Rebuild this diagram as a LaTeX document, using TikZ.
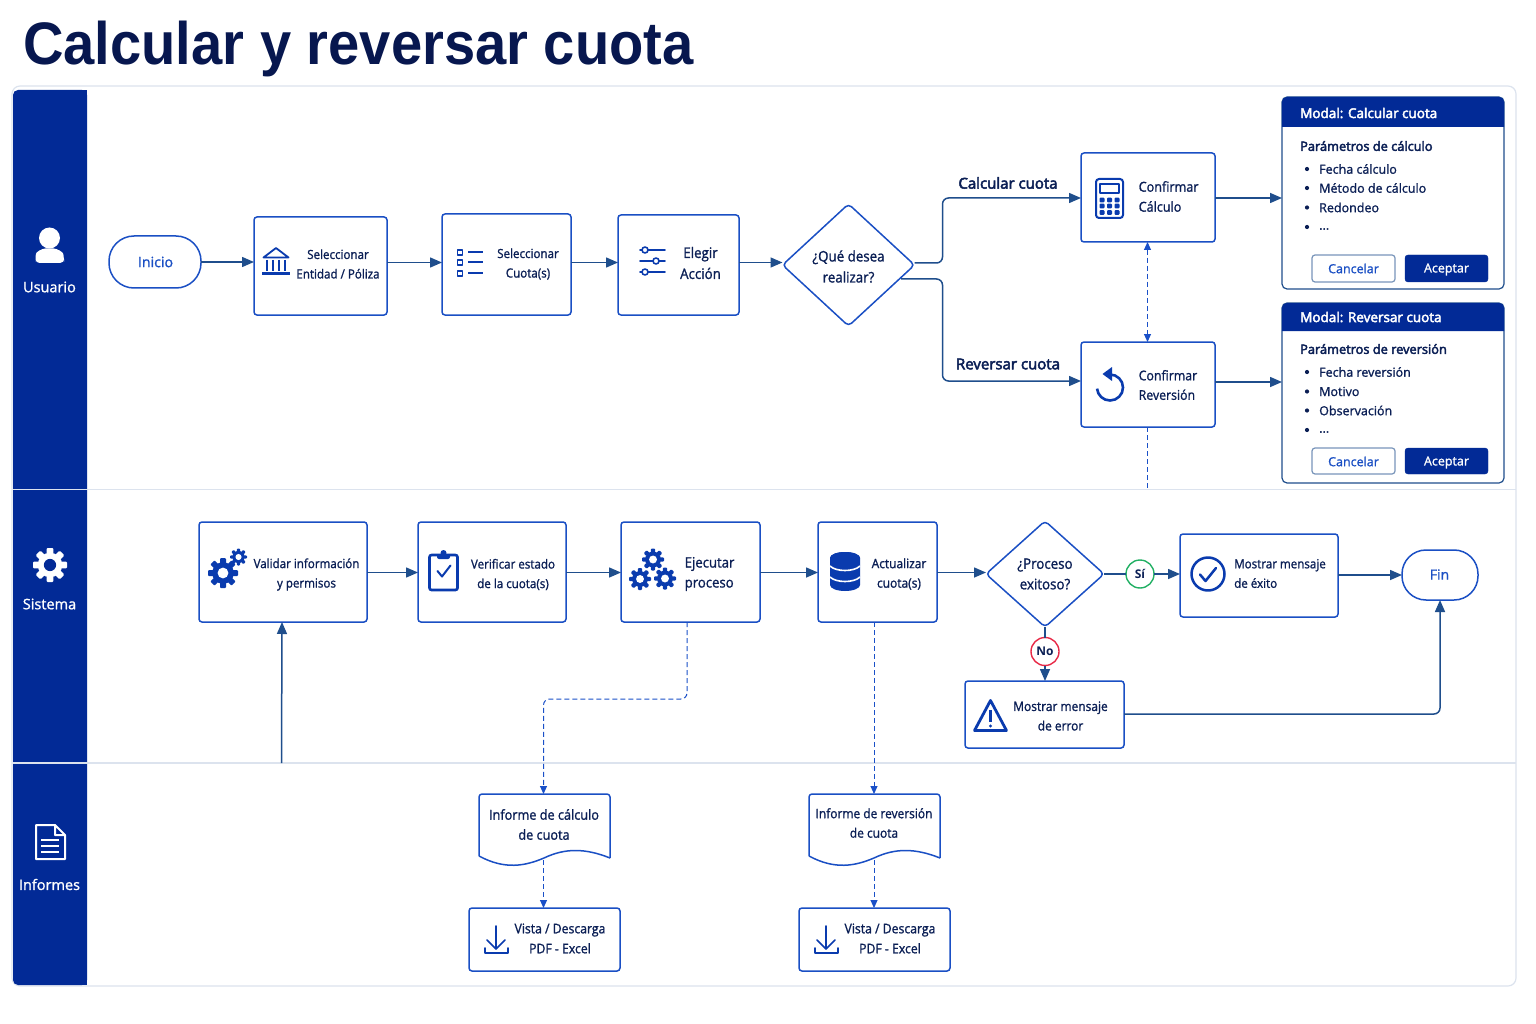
\documentclass[tikz,border=0pt]{standalone}
\usepackage{fontspec}
\usetikzlibrary{arrows.meta,shapes.geometric,calc}
\setmainfont[FakeStretch=0.92,FakeBold=1.2]{Open Sans}
\newfontfamily\semif[FakeBold=3.2]{Open Sans}
\newfontfamily\modf[FakeBold=1.2]{Open Sans}
\newfontfamily\chipf{Open Sans}
\newfontfamily\titlef[FakeStretch=0.935]{Liberation Sans}
\newcommand\tdots{...}
\definecolor{navy}{HTML}{0B1F55}
\definecolor{titlec}{HTML}{07174F}
\definecolor{side}{HTML}{022A96}
\definecolor{edge}{HTML}{1A4FC4}
\definecolor{flowc}{HTML}{1F4E8C}
\definecolor{dashc}{HTML}{1A50C8}
\definecolor{icon}{HTML}{0A3BAE}
\definecolor{grid}{HTML}{DCE3EE}
\tikzset{
 bxs/.style={draw=edge,line width=1.5pt,rounded corners=3pt,fill=white,inner sep=0,outer sep=0},
 stad/.style={bxs,rounded corners=25pt},
 modalbox/.style={draw=flowc,line width=1.2pt,rounded corners=5pt,fill=white,inner sep=0,outer sep=0},
 cancelb/.style={draw=flowc!60,line width=1.2pt,rounded corners=3pt,fill=white,inner sep=0,outer sep=0},
 okb/.style={draw=side,fill=side,rounded corners=3pt,inner sep=0,outer sep=0},
 deci/.style={diamond,draw=edge,line width=1.5pt,rounded corners=4pt,fill=white,inner sep=0,outer sep=0},
 flow/.style={draw=flowc,line width=1.5pt,rounded corners=6pt,-{Triangle[length=12pt,width=10pt]}},
 plainflow/.style={draw=flowc,line width=1.5pt},
 dflow/.style={draw=dashc,line width=1pt,dash pattern=on 5pt off 3pt,rounded corners=6pt,-{Triangle[length=8pt,width=7pt]}},
 tx/.style={text=navy,align=center,inner sep=0,font=\fontsize{12.6}{19.5}\selectfont},
 txl/.style={tx,align=left,anchor=west},
 lane/.style={text=white,inner sep=0,font=\modf\fontsize{14.5}{17}\selectfont},
 modt/.style={text=white,anchor=west,inner sep=0,font=\semif\fontsize{13.5}{16}\selectfont},
 modh/.style={text=navy,anchor=west,inner sep=0,font=\semif\fontsize{12.8}{16}\selectfont},
 modi/.style={text=navy,anchor=west,inner sep=0,font=\modf\fontsize{12.5}{16}\selectfont},
 btn/.style={inner sep=0,font=\modf\fontsize{12.5}{15}\selectfont},
 edgelab/.style={inner sep=0,text=navy,font=\semif\fontsize{15}{17}\selectfont},
 ic/.style={draw=icon,line width=2pt,line cap=round,line join=round},
 chip/.style={circle,fill=white,line width=1.4pt,minimum size=28pt,inner sep=0,outer sep=0,text=navy,font=\chipf\bfseries\fontsize{12}{14}\selectfont},
}
\newcommand\nbox[6][bxs]{%
 \pgfmathsetmacro\cxx{(#3+#5)/2}\pgfmathsetmacro\cyy{(#4+#6)/2}%
 \pgfmathsetmacro\www{#5-#3}\pgfmathsetmacro\hhh{#6-#4}%
 \node[#1,minimum width=\www pt,minimum height=\hhh pt] (#2) at (\cxx,\cyy) {};}
\newcommand\hflow[3]{\draw[flow] (#1.east |- 0,#3) -- (#2.west |- 0,#3);}
\newcommand\gearicon[5]{%
 \begin{scope}[shift={(#1,#2)}]
 \fill[#4] (0,0) circle ({#3*.72});
 \foreach \a in {0,45,...,315}{\fill[#4,rotate=\a,rounded corners=1pt] ({-#3*.2},{#3*.6}) rectangle ({#3*.2},{#3});}
 \fill[#5] (0,0) circle ({#3*.36});
 \end{scope}}
\newcommand\dlicon[2]{%
 \begin{scope}[shift={(#1,#2)}]
 \draw[ic,line width=1.6pt] (0,-12)--(0,11) (-9,2)--(0,11)--(9,2);
 \draw[ic,line width=1.6pt] (-11,10)--(-11,15)--(12,15)--(12,10);
 \end{scope}}
\newcommand\modal[8]{%
 \nbox[modalbox]{#1}{1282}{#2}{1504}{#4}
 \fill[side] (1282,#3) -- (1282,{#2+5}) arc[start angle=180,end angle=270,radius=5] -- (1499,#2) arc[start angle=270,end angle=360,radius=5] -- (1504,#3) -- cycle;
 \node[modt] (#1t) at (1300,{#2+#7}) {#5};
 \node[modh] (#1h) at (1300,{#3+#8}) {#6};
}
\begin{document}
\begin{tikzpicture}[x=1pt,y=-1pt]
\useasboundingbox (0,0) rectangle (1536,1024);
\fill[white] (0,0) rectangle (1536,1024);
\node[anchor=base west,inner sep=0,text=titlec,font=\titlef\bfseries\fontsize{60}{64}\selectfont] (title) at (23,65) {Calcular y reversar cuota};
% panel
\node[draw=grid,line width=1.2pt,rounded corners=8pt,minimum width=1504pt,minimum height=900pt,inner sep=0,outer sep=0,fill=white] (panel) at (764,536) {};
\fill[side,rounded corners=5pt] (13,90) rectangle (87,985);
\fill[side] (40,90) rectangle (87,985);
\coordinate (s1l) at (13,489.5); \coordinate (s1r) at (1516,489.5);
\coordinate (s2l) at (13,763); \coordinate (s2r) at (1516,763);
\draw[grid,line width=1.2pt] (s1l)--(s1r) (s2l)--(s2r);
% lane heads
\fill[white] (49.5,238) circle (10.5);
\fill[white,rounded corners=4pt] (35.5,263) -- (35.5,258) .. controls (36,252) and (42,248.5) .. (49.5,248.5) .. controls (57,248.5) and (63,252) .. (64,258) -- (64,263) -- cycle;
\node[lane] (lane1) at (49.5,287) {Usuario};
\gearicon{50}{565}{17}{white}{side}
\node[lane] (lane2) at (49.5,604) {Sistema};
\draw[white,line width=2pt,line join=round] (36,825)--(55,825)--(65,835)--(65,859)--(36,859)--cycle (55,825)--(55,835)--(65,835);
\draw[white,line width=1.8pt] (41,840)--(59,840) (41,846)--(59,846) (41,852)--(59,852);
\node[lane] (lane3) at (49.5,884.5) {Informes};
% Row 1 boxes
\nbox[stad]{ini}{109}{236}{201}{288}
\node[tx,text=edge,font=\modf\fontsize{14.2}{16}\selectfont] (init) at (155.5,262) {Inicio};
\nbox{sel}{254}{217}{387}{315}
\node[tx] (selt) at (338,264) {Seleccionar\\Entidad / Póliza};
\nbox{cuo}{442}{214}{571}{315}
\node[tx] (cuot) at (528,264) {Seleccionar\\Cuota(s)};
\nbox{ele}{618}{215}{739}{315}
\node[tx,font=\fontsize{14.5}{21}\selectfont] (elet) at (700.5,263) {Elegir\\Acción};
\node[deci,minimum width=132pt,minimum height=122pt] (dq) at (848.5,265) {};
\node[tx,font=\fontsize{14.5}{21}\selectfont] (dqt) at (848.5,266.5) {¿Qué desea\\realizar?};
\nbox{cc}{1081}{153}{1215}{242}
\node[txl,font=\fontsize{13.7}{20}\selectfont] (cct) at (1138.5,196.5) {Confirmar\\Cálculo};
\nbox{cr}{1081}{342}{1215}{427}
\node[txl,font=\fontsize{13.4}{19.5}\selectfont] (crt) at (1138.5,385) {Confirmar\\Reversión};
\node[edgelab] (lc) at (1008,183) {Calcular cuota};
\node[edgelab] (lr) at (1008,364) {Reversar cuota};
% Modals
\modal{ma}{97}{127}{289}{Modal: Calcular cuota}{Parámetros de cálculo}{16}{19}
\foreach \n/\y/\t in {1/169/Fecha cálculo,2/188/Método de cálculo,3/207.5/Redondeo}{
 \fill[navy] (1307,\y) circle (2.1);
 \node[modi] (ma\n) at (1319,\y) {\t};}
\fill[navy] (1307,227) circle (2.1);
\node[modi] (ma4) at (1319,229) {\tdots};
\nbox[cancelb]{mac}{1312}{255}{1395}{282}
\node[btn,text=edge] (mact) at (1353.5,268.5) {Cancelar};
\nbox[okb]{mao}{1405}{255}{1488}{282}
\node[btn,text=white] (maot) at (1446.5,269.5) {Aceptar};
\modal{mb}{303}{331}{483}{Modal: Reversar cuota}{Parámetros de reversión}{14}{18}
\foreach \n/\y/\t in {1/372/Fecha reversión,2/391.5/Motivo,3/410.5/Observación}{
 \fill[navy] (1307,\y) circle (2.1);
 \node[modi] (mb\n) at (1319,\y) {\t};}
\fill[navy] (1307,430) circle (2.1);
\node[modi] (mb4) at (1319,432) {\tdots};
\nbox[cancelb]{mbc}{1312}{448}{1395}{474}
\node[btn,text=edge] (mbct) at (1353.5,461.5) {Cancelar};
\nbox[okb]{mbo}{1405}{448}{1488}{474}
\node[btn,text=white] (mbot) at (1446.5,462.5) {Aceptar};
% Row 2
\nbox{val}{199}{522}{367}{622}
\node[tx] (valt) at (306.5,574.5) {Validar información\\y permisos};
\nbox{ver}{418}{522}{566}{622}
\node[tx] (vert) at (513,574.5) {Verificar estado\\de la cuota(s)};
\nbox{eje}{621}{522}{760}{622}
\node[txl,font=\fontsize{14.3}{20}\selectfont] (ejet) at (684.5,574) {Ejecutar\\proceso};
\nbox{act}{818}{522}{937}{622}
\node[tx,font=\fontsize{13}{19.5}\selectfont] (actt) at (899,574) {Actualizar\\cuota(s)};
\node[deci,minimum width=118pt,minimum height=106pt] (dp) at (1045,574) {};
\node[tx,font=\fontsize{14.5}{20.5}\selectfont] (dpt) at (1045,574) {¿Proceso\\exitoso?};
\nbox{exi}{1180}{534}{1338}{617}
\node[txl] (exit) at (1234,573.5) {Mostrar mensaje\\de éxito};
\nbox[bxs,rounded corners=24pt]{fin}{1402}{550}{1478}{600}
\node[tx,text=edge,font=\modf\fontsize{14}{16}\selectfont] (fint) at (1439.5,574.5) {Fin};
\nbox{err}{965}{681}{1124}{748}
\node[tx,font=\fontsize{13}{19.5}\selectfont] (errt) at (1060.5,716) {Mostrar mensaje\\de error};
\node[chip,draw={rgb,255:red,34;green,176;blue,100}] (si) at (1140,574) {Sí};
\node[chip,draw={rgb,255:red,232;green,40;blue,70}] (no) at (1045,651.5) {No};
% Row 3
\coordinate (da) at (543.5,860); \coordinate (db) at (874,860);
\draw[edge,line width=1.5pt,line join=round,rounded corners=3pt] (479,856) -- (479,794) -- (610,794) -- (610,858);
\draw[edge,line width=1.5pt] (610,858) .. controls (585,848) and (565,848) .. (544,858) .. controls (525,866) and (505,870) .. (479,856);
\draw[edge,line width=1.5pt,line join=round,rounded corners=3pt] (809,856) -- (809,794) -- (940,794) -- (940,858);
\draw[edge,line width=1.5pt] (940,858) .. controls (915,848) and (895,848) .. (874,858) .. controls (855,866) and (835,870) .. (809,856);
\coordinate (dat) at (543.5,794); \coordinate (dbt) at (874,794);
\node[tx,font=\fontsize{13.8}{20}\selectfont] (dat1) at (544,824.5) {Informe de cálculo\\de cuota};
\node[tx,font=\fontsize{13}{19.5}\selectfont] (dbt1) at (874,823) {Informe de reversión\\de cuota};
\nbox{va}{469}{908}{620}{971}
\node[tx,font=\fontsize{13.3}{20}\selectfont] (vat) at (560,938.5) {Vista / Descarga\\PDF - Excel};
\nbox{vb}{799}{908}{950}{971}
\node[tx,font=\fontsize{13.3}{20}\selectfont] (vbt) at (890,938.5) {Vista / Descarga\\PDF - Excel};
% Connectors
\hflow{ini}{sel}{262}
\hflow{sel}{cuo}{262.5}
\hflow{cuo}{ele}{262.5}
\hflow{ele}{dq}{262.5}
\coordinate (u1) at (942.5,198); \coordinate (u2) at (942.5,381); \coordinate (dlow) at (901,279);
\draw[flow] (dq.east |- 0,263) -- (u1 |- 0,263) -- (u1) -- (u1 -| cc.west);
\draw[flow] (dlow) -- (u2 |- dlow) -- (u2) -- (u2 -| cr.west);
\draw[flow] (cc.east |- u1) -- (ma.west |- u1);
\draw[flow] (cr.east |- 0,382) -- (mb.west |- 0,382);
\coordinate (dd) at (1147.5,0);
\draw[dflow,{Triangle[length=8pt,width=7pt]}-{Triangle[length=8pt,width=7pt]}] (dd |- cc.south) -- (dd |- cr.north);
\draw[draw=dashc,line width=1pt,dash pattern=on 5pt off 3pt] (dd |- cr.south) -- (dd |- s1l);
\hflow{val}{ver}{572.5}
\hflow{ver}{eje}{572.5}
\hflow{eje}{act}{572.5}
\hflow{act}{dp}{572.5}
\draw[plainflow] (dp.east) -- (si.west);
\draw[flow] (si.east) -- (exi.west |- si);
\draw[flow] (exi.east |- 0,575) -- (fin.west |- 0,575);
\draw[plainflow] (dp.south) -- (no.north);
\draw[flow] (no.south) -- (err.north -| no);
\coordinate (ec) at (1440,714);
\draw[flow] (err.east |- ec) -- (ec) -- (fin.south -| ec);
\draw[flow] (281.5,763) -- (val.south -| 282,0);
\coordinate (b1) at (687,699); \coordinate (b2) at (543.5,699);
\draw[dflow] (eje.south -| b1) -- (b1) -- (b2) -- (dat);
\draw[dflow] (act.south -| dbt) -- (dbt);
\draw[dflow] (da) -- (da |- va.north);
\draw[dflow] (db) -- (db |- vb.north);
% Icons
% bank
\draw[ic,line width=1.8pt] (276,248)--(263.5,257.5)--(288.5,257.5)--cycle;
\draw[ic,line width=2pt,line cap=butt] (267,260)--(267,271) (272.5,260)--(272.5,271) (279,260)--(279,271) (285,260)--(285,271);
\draw[ic,line width=2.4pt,line cap=butt] (262,273.5)--(290,273.5);
% list
\foreach \y in {252.5,262.5,273.5}{\draw[ic,line width=1.8pt,line cap=butt] (457.5,\y-2.5) rectangle (462.5,\y+2.5);
 \draw[ic,line cap=butt] (468,\y)--(483,\y);}
% sliders
\foreach \y/\c in {250/645,261/656,272/645}{\draw[ic,line width=1.6pt] (640,\y)--(665,\y); \draw[ic,line width=1.6pt,fill=white] (\c,\y) circle (3);}
% calculator
\draw[ic,rounded corners=3pt] (1096,179) rectangle (1123,218);
\draw[ic,line width=1.6pt] (1100,184) rectangle (1119,193);
\foreach \x in {1102,1109.5,1117}{\foreach \y in {200,206,212.5}{\fill[icon,rounded corners=1pt] (\x-2.5,\y-2.3) rectangle (\x+2.5,\y+2.3);}}
% undo
\draw[ic,line width=2.6pt,line cap=butt] (1110,374.5) arc[start angle=-90,end angle=175,radius=13];
\fill[icon] (1102.5,374) -- (1112,367) -- (1112,381) -- cycle;
% gears
\gearicon{223}{573}{15}{icon}{white}
\gearicon{238.5}{557}{8.5}{icon}{white}
% clipboard
\draw[ic,line width=2.6pt,rounded corners=2pt] (429.5,555) rectangle (457.5,590);
\fill[icon,rounded corners=2pt] (437,554) rectangle (450,559);
\fill[icon] (443.5,553) circle (3);
\draw[ic] (437.5,571)--(442,576.5)--(450.5,565.5);
% gears 3
\gearicon{653}{559.5}{11}{icon}{white}
\gearicon{640}{579}{11}{icon}{white}
\gearicon{665}{578.5}{11}{icon}{white}
% db
\fill[icon] (830,558) arc[start angle=180,end angle=360,x radius=15,y radius=6] -- (860,585) arc[start angle=0,end angle=180,x radius=15,y radius=6] -- cycle;
\fill[icon] (845,558) ellipse (15 and 6);
\draw[white,line width=1.6pt] (830,566) .. controls (836,572) and (854,572) .. (860,566);
\draw[white,line width=1.6pt] (830,577) .. controls (836,583) and (854,583) .. (860,577);
% check
\draw[ic,line width=2.5pt] (1208,574) circle (16.5);
\draw[ic,line width=2.5pt] (1200,574.5)--(1205.5,581)--(1216,568);
% warn
\draw[ic,line width=2.8pt,line join=round] (990.5,700.5)--(974.5,730.5)--(1006.5,730.5)--cycle;
\draw[ic,line width=2.6pt,line cap=butt] (990.5,710)--(990.5,722);
\fill[icon] (990.5,726) circle (1.7);
% download
\dlicon{496}{938}
\dlicon{826}{938}
\end{tikzpicture}
\end{document}
